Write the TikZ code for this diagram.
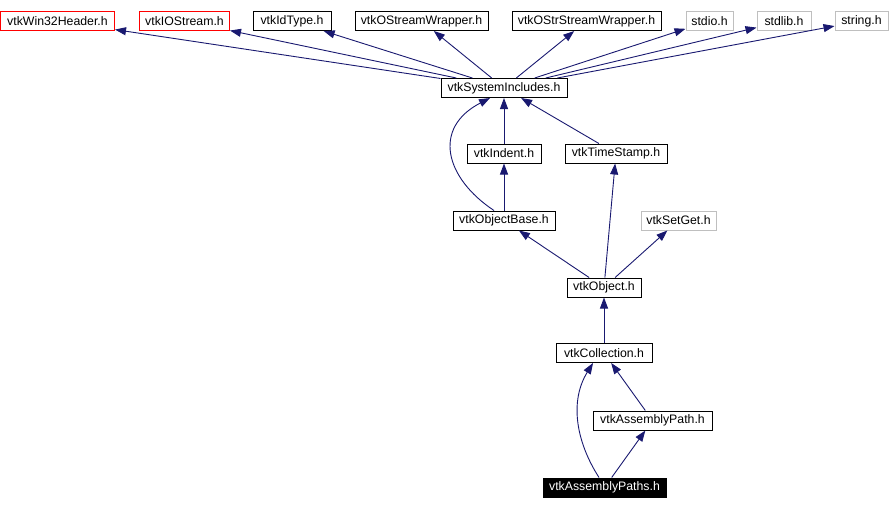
\documentclass[tikz,border=0pt]{standalone}
\usepackage{fontspec}
\setmainfont{Liberation Sans}
\usetikzlibrary{arrows.meta}
\definecolor{edgeblue}{RGB}{25,25,112}
\definecolor{redbox}{RGB}{255,0,0}
\definecolor{graybox}{RGB}{191,191,191}
\tikzset{
  hbox/.style={draw=black, line width=1pt, inner sep=0pt, minimum height=19pt, font=\fontsize{12.3}{14}\selectfont},
  redh/.style={hbox, draw=redbox},
  grayh/.style={hbox, draw=graybox},
  mainh/.style={hbox, fill=black, text=white},
  edge/.style={draw=edgeblue, line width=0.9pt, -{Triangle[length=11pt,width=8pt]}}
}
\begin{document}
\begin{tikzpicture}[x=1pt,y=-1pt]
\useasboundingbox (0,0) rectangle (890,509);
% top row
\node[redh, minimum width=114pt] (win) at (57.5,21) {vtkWin32Header.h};
\node[redh, minimum width=90pt] (ios) at (184.5,21) {vtkIOStream.h};
\node[hbox, minimum width=78pt] (idt) at (292,21) {vtkIdType.h};
\node[hbox, minimum width=133pt] (osw) at (421.5,21) {vtkOStreamWrapper.h};
\node[hbox, minimum width=149pt] (ossw) at (586.5,21) {vtkOStrStreamWrapper.h};
\node[grayh, minimum width=47pt] (stdio) at (709.5,21) {stdio.h};
\node[grayh, minimum width=54pt] (stdlib) at (784,21) {stdlib.h};
\node[grayh, minimum width=53pt] (string) at (861.5,21) {string.h};
% middle
\node[hbox, minimum width=126pt] (sys) at (504,88) {vtkSystemIncludes.h};
\node[hbox, minimum width=74pt] (ind) at (504,153.5) {vtkIndent.h};
\node[hbox, minimum width=102pt] (ts) at (616,153.5) {vtkTimeStamp.h};
\node[hbox, minimum width=102pt] (ob) at (504,220.5) {vtkObjectBase.h};
\node[grayh, minimum width=75pt] (sg) at (678.5,220.5) {vtkSetGet.h};
\node[hbox, minimum width=74pt] (obj) at (604,287.5) {vtkObject.h};
\node[hbox, minimum width=96pt] (coll) at (604,353) {vtkCollection.h};
\node[hbox, minimum width=119pt] (ap) at (652.5,420.5) {vtkAssemblyPath.h};
\node[mainh, minimum width=123pt] (aps) at (604.5,487.5) {vtkAssemblyPaths.h};
% edges
\foreach \t in {win,ios,idt,osw,ossw,stdio,stdlib,string}
  \draw[edge] (sys) -- (\t);
\draw[edge] (ind) -- (sys);
\draw[edge] (ts) -- (sys);
\draw[edge] ([xshift=-10pt]ob.north) .. controls (445,178) and (432,128) .. ([xshift=-14pt]sys.south);
\draw[edge] (ob) -- (ind);
\draw[edge] (obj) -- (ob);
\draw[edge] (obj) -- (ts);
\draw[edge] (obj) -- (sg);
\draw[edge] (coll) -- (obj);
\draw[edge] (ap) -- (coll);
\draw[edge] (aps) -- (ap);
\draw[edge] ([xshift=-5.5pt]aps.north) .. controls (575,440) and (570,400) .. ([xshift=-11pt]coll.south);
\end{tikzpicture}
\end{document}
